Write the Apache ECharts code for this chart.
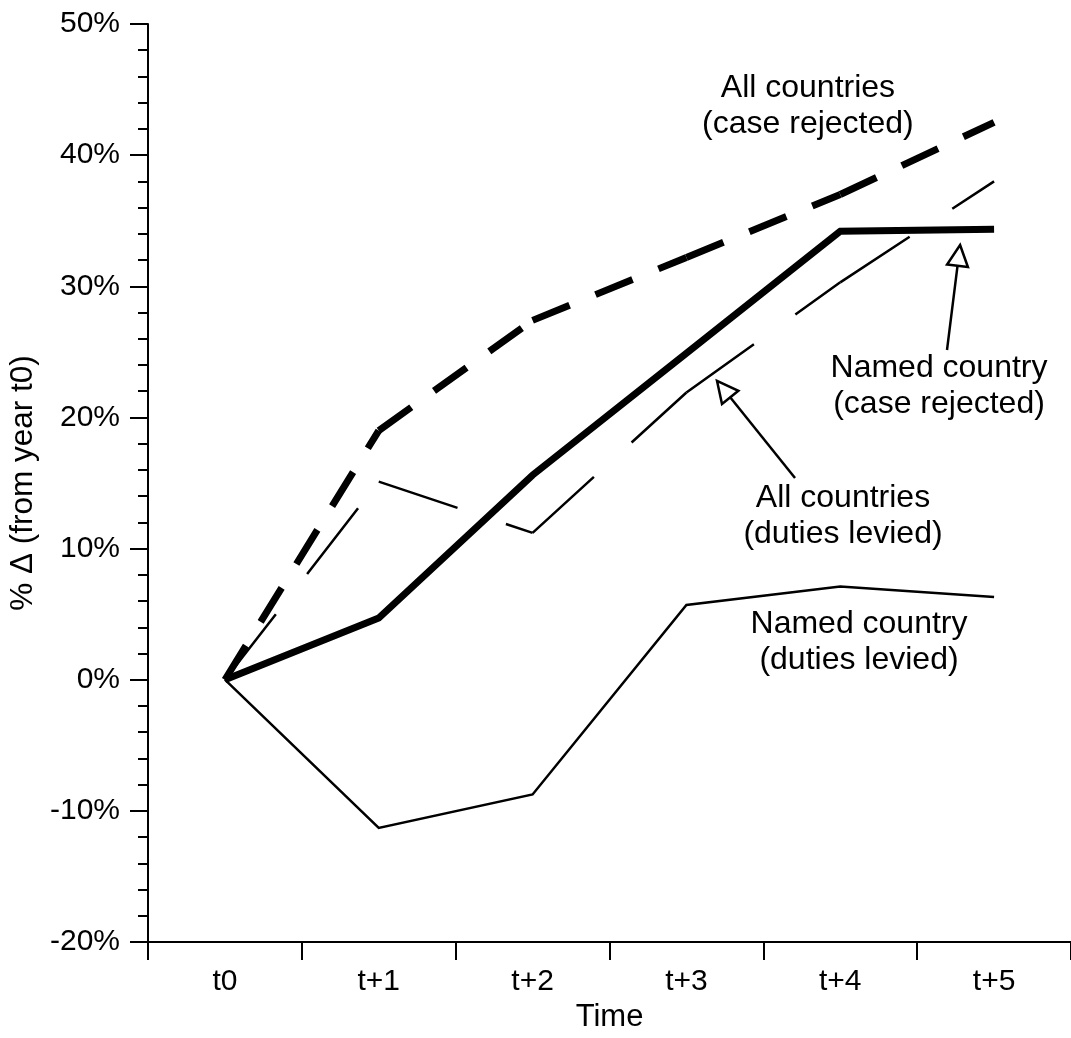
<!DOCTYPE html>
<html><head><meta charset="utf-8">
<script src="https://cdn.jsdelivr.net/npm/echarts@6/dist/echarts.min.js"></script>
<style>html,body{margin:0;padding:0;background:#fff}#c{width:1071px;height:1038px}</style>
</head><body><div id="c"></div><script>
// ---- data ----
const categories = ['t0', 't+1', 't+2', 't+3', 't+4', 't+5'];
const namedDutiesLevied = [0, -11.3, -8.75, 5.7, 7.1, 6.3];
const namedCaseRejected = [0, 4.7, 15.6, 24.9, 34.2, 34.35];
const allCaseRejected   = [0, 19.0, 27.4, 32.2, 37.0, 42.5];
const allDutiesLevied   = [0, 15.1, 11.2, 21.9, 30.3, 38.0];
const yMin = -20, yMax = 50, yInterval = 10;
const annotationLabels = [
  'All countries\n(case rejected)',
  'Named country\n(case rejected)',
  'All countries\n(duties levied)',
  'Named country\n(duties levied)'
];
const yAxisName = '% \u0394 (from year t0)';
const xAxisName = 'Time';

// ---- chart ----
const FONT = 'Liberation Sans, Arial, Helvetica, sans-serif';
const chart = echarts.init(document.getElementById('c'), null, {renderer: 'canvas'});

// per-segment series so the dash pattern restarts at each vertex
function segmentSeries(values, width, dash) {
  const out = [];
  for (let i = 0; i < values.length - 1; i++) {
    const d = values.map((v, j) => (j === i || j === i + 1) ? v : null);
    out.push({
      type: 'line', xAxisIndex: 0, yAxisIndex: 0, data: d, symbol: 'none',
      connectNulls: false, silent: true, animation: false,
      lineStyle: {color: '#000', width: width, type: dash, cap: 'butt'}
    });
  }
  return out;
}

// annotation anchors (data space on hidden value x axis)
const textAnchors = [[3.79, 43.75], [4.642, 22.4], [4.018, 12.48], [4.122, 2.87]];
const arrowAnchors = [[4.694, 25.14, 4.779, 33.15], [3.706, 15.38, 3.199, 22.78]];

const series = [
  {
    type: 'line', xAxisIndex: 0, yAxisIndex: 0, data: namedDutiesLevied, symbol: 'none',
    silent: true, animation: false,
    lineStyle: {color: '#000', width: 2.5, join: 'miter'}
  },
  {
    type: 'line', xAxisIndex: 0, yAxisIndex: 0, data: namedCaseRejected, symbol: 'none',
    silent: true, animation: false,
    lineStyle: {color: '#000', width: 7, join: 'miter', cap: 'butt'}
  }
]
  .concat(segmentSeries(allCaseRejected, 7, [40, 28]))
  .concat(segmentSeries(allDutiesLevied, 2.5, [83, 51]))
  .concat([
    {
      type: 'scatter', xAxisIndex: 1, yAxisIndex: 0, symbolSize: 0, silent: true, animation: false,
      itemStyle: {opacity: 1, color: '#000'},
      data: annotationLabels.map((t, i) => ({name: t, value: textAnchors[i]})),
      label: {
        show: true, position: 'inside', formatter: p => p.name, opacity: 1,
        color: '#000', fontSize: 32, lineHeight: 36, fontFamily: FONT, align: 'center'
      }
    },
    {
      type: 'custom', xAxisIndex: 1, yAxisIndex: 0, silent: true, animation: false, clip: false,
      encode: {x: [0, 2], y: [1, 3]},
      data: arrowAnchors,
      renderItem: function (params, api) {
        const s = api.coord([api.value(0), api.value(1)]);
        const t = api.coord([api.value(2), api.value(3)]);
        const dx = t[0] - s[0], dy = t[1] - s[1], len = Math.hypot(dx, dy);
        const ux = dx / len, uy = dy / len;
        const L = 21, W = 10.5;
        const bx = t[0] - ux * L, by = t[1] - uy * L;
        const nx = -uy, ny = ux;
        return {
          type: 'group', children: [
            {type: 'line', shape: {x1: s[0], y1: s[1], x2: bx, y2: by},
             style: {stroke: '#000', lineWidth: 2.5}},
            {type: 'polygon',
             shape: {points: [[t[0], t[1]], [bx + nx * W, by + ny * W], [bx - nx * W, by - ny * W]]},
             style: {fill: '#fff', stroke: '#000', lineWidth: 2.5, lineJoin: 'miter'}}
          ]
        };
      }
    }
  ]);

const option = {
  backgroundColor: '#fff',
  animation: false,
  grid: {left: 148, right: 0, top: 24, bottom: 96, containLabel: false, outerBoundsMode: 'none'},
  xAxis: [
    {
      type: 'category', data: categories, boundaryGap: true,
      name: xAxisName, nameLocation: 'middle', nameGap: 59,
      nameTextStyle: {color: '#000', fontSize: 31, fontFamily: FONT},
      axisLine: {show: true, onZero: false, lineStyle: {color: '#000', width: 2}},
      axisTick: {show: true, interval: 0, length: 18, alignWithLabel: false, lineStyle: {color: '#000', width: 2}},
      axisLabel: {color: '#000', fontSize: 30, fontFamily: FONT, margin: 25, interval: 0},
      splitLine: {show: false}
    },
    {type: 'value', show: false, min: -0.5, max: 5.5}
  ],
  yAxis: {
    type: 'value', min: yMin, max: yMax, interval: yInterval,
    name: yAxisName, nameLocation: 'middle', nameGap: 109, nameRotate: 90,
    nameTextStyle: {color: '#000', fontSize: 31.5, fontFamily: FONT},
    axisLine: {show: true, onZero: false, lineStyle: {color: '#000', width: 2}},
    axisTick: {show: true, length: 18, lineStyle: {color: '#000', width: 2}},
    minorTick: {show: true, splitNumber: 5, length: 10, lineStyle: {color: '#000', width: 2}},
    axisLabel: {color: '#000', fontSize: 30, fontFamily: FONT, margin: 28, formatter: '{value}%'},
    splitLine: {show: false},
    minorSplitLine: {show: false}
  },
  series: series
};
chart.setOption(option);
</script></body></html>
